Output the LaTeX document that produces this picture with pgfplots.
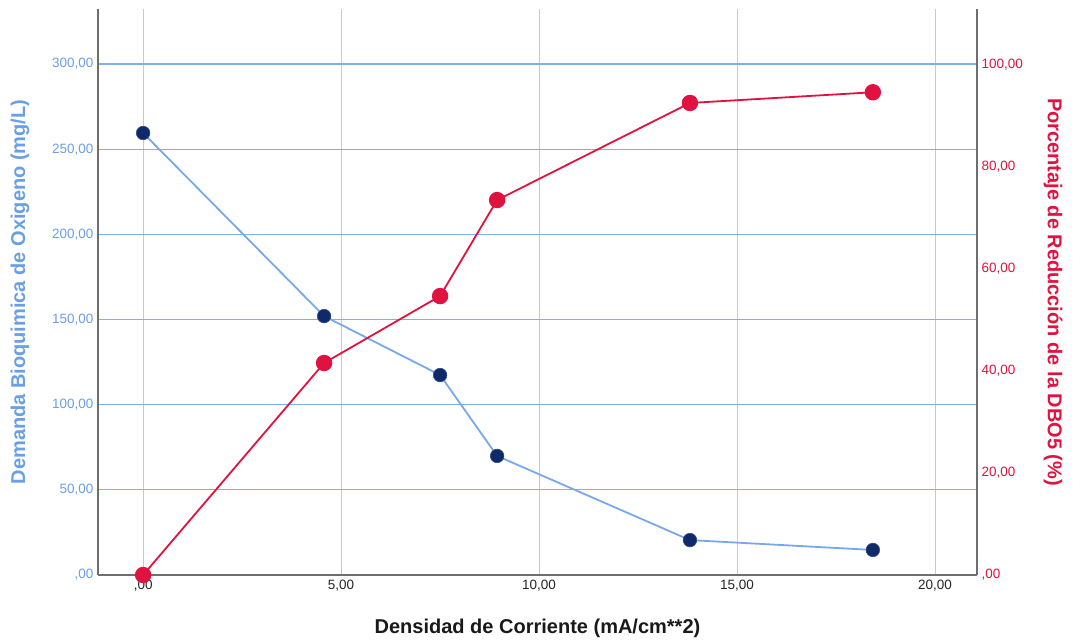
\documentclass[border=0pt]{standalone}
\usepackage{pgfplots}
\pgfplotsset{compat=1.18}
\usepackage{fontspec}
\setmainfont{Liberation Sans}
\definecolor{gridblue}{HTML}{7FAEEA}
\definecolor{lineblue}{HTML}{76A9EC}
\definecolor{navy}{HTML}{0E2A6B}
\definecolor{tickblue}{HTML}{6A9FE6}
\definecolor{crimson}{HTML}{E0123F}
\definecolor{axgray}{HTML}{6E6E6E}
\definecolor{vgrid}{HTML}{C9C9C9}
\pgfplotstableread{
x y
0 259.5
4.57 152.0
7.5 117.4
8.94 69.9
13.81 20.5
18.43 14.7
}\dbo
\pgfplotstableread{
x y
0 0
4.57 41.5
7.5 54.6
8.94 73.4
13.81 92.4
18.43 94.5
}\red
\begin{document}
\begin{tikzpicture}[x=1pt,y=1pt]
\useasboundingbox (0,0) rectangle (1075,640);
\pgfplotsset{
  common/.style={
    at={(98pt,65pt)}, anchor=south west,
    scale only axis, width=879pt, height=566pt,
    xmin=-1.14, xmax=21.06,
    /pgf/number format/assume math mode=true,
    major tick length=0pt,
    axis line style={axgray, line width=1.3pt, -},
    tick label style={font=\fontsize{13.5}{16}\selectfont},
    label style={font=\fontsize{20}{24}\selectfont\bfseries},
    clip=false,
  }
}
\begin{axis}[common,
  axis x line*=bottom, axis y line*=left,
  ymin=0, ymax=332.3,
  xtick={0,5,10,15,20},
  xticklabels={{,00},{5,00},{10,00},{15,00},{20,00}},
  ytick={0,50,100,150,200,250,300},
  yticklabels={{,00},{50,00},{100,00},{150,00},{200,00},{250,00},{300,00}},
  yticklabel style={text=tickblue, xshift=-1pt},
  xticklabel style={text=black!85, yshift=-2pt},
  xmajorgrids, ymajorgrids,
  x grid style={vgrid, line width=1pt},
  y grid style={gridblue, line width=1.2pt},
  xlabel={Densidad de Corriente (mA/cm**2)},
  xlabel style={text=black!90, at={(axis description cs:0.5,-0.0936)}, anchor=center},
  ylabel={Demanda Bioquimica de Oxigeno (mg/L)},
  ylabel style={text=tickblue, at={(axis description cs:-0.0887,0.5)}, anchor=center},
]
\addplot[only marks, mark=*, mark size=6.8pt,
  mark options={fill=navy, draw=navy!85!white, line width=0.6pt}] table {\dbo};
\addplot[lineblue, line width=1.8pt, no marks] table {\dbo};
\end{axis}
\begin{axis}[common,
  axis y line*=right, axis x line=none,
  ymin=0, ymax=110.8,
  ytick={0,20,40,60,80,100},
  yticklabels={{,00},{20,00},{40,00},{60,00},{80,00},{100,00}},
  yticklabel style={text=crimson, xshift=1pt},
  ylabel={Porcentaje de Reducción de la DBO5 (\%)},
  ylabel style={text=crimson, at={(axis description cs:1.0865,0.5)}, anchor=center, rotate=180},
]
\addplot[crimson, line width=1.8pt, mark=*, mark size=7.3pt,
  mark options={fill=crimson, draw=crimson}] table {\red};
\end{axis}
\end{tikzpicture}
\end{document}
